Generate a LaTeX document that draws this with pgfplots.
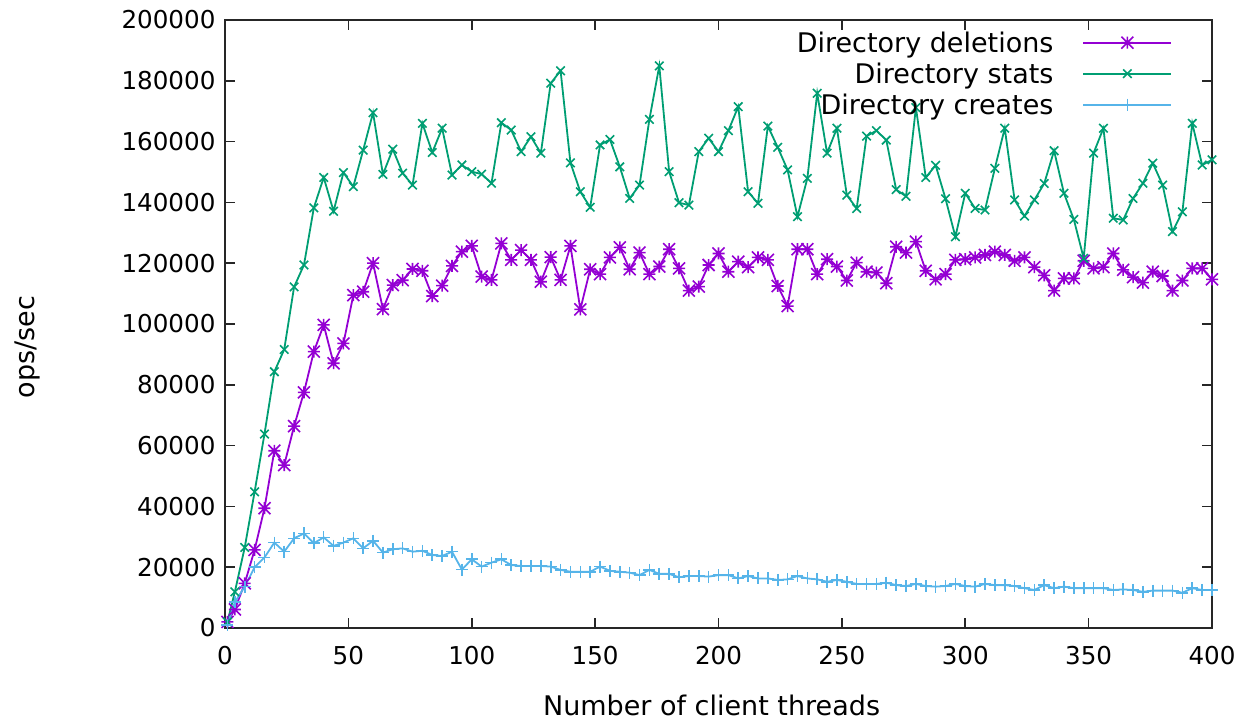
\documentclass[border=0pt]{standalone}
\usepackage{pgfplots}
\pgfplotsset{compat=1.18}
\usepackage{pgfplotstable}
\usepackage{fontspec}
\setmainfont{DejaVu Sans}
\definecolor{gpviolet}{RGB}{148,0,211}
\definecolor{gpgreen}{RGB}{0,158,115}
\definecolor{gpblue}{RGB}{86,180,233}
\pgfdeclareplotmark{gpstar}{%
  \pgfpathmoveto{\pgfqpoint{-\pgfplotmarksize}{0pt}}\pgfpathlineto{\pgfqpoint{\pgfplotmarksize}{0pt}}%
  \pgfpathmoveto{\pgfqpoint{0pt}{-\pgfplotmarksize}}\pgfpathlineto{\pgfqpoint{0pt}{\pgfplotmarksize}}%
  \pgfpathmoveto{\pgfqpoint{-\pgfplotmarksize}{-\pgfplotmarksize}}\pgfpathlineto{\pgfqpoint{\pgfplotmarksize}{\pgfplotmarksize}}%
  \pgfpathmoveto{\pgfqpoint{-\pgfplotmarksize}{\pgfplotmarksize}}\pgfpathlineto{\pgfqpoint{\pgfplotmarksize}{-\pgfplotmarksize}}%
  \pgfusepathqstroke}

\pgfplotstableread{
x y
1 2
4 6.1
8 14.7
12 25.7
16 39.4
20 58.3
24 53.6
28 66.4
32 77.5
36 90.9
40 99.7
44 87.1
48 93.6
52 109.5
56 110.6
60 120
64 104.9
68 112.8
72 114.4
76 118.1
80 117.5
84 109.2
88 112.6
92 119.1
96 123.8
100 125.7
104 115.6
108 114.5
112 126.5
116 121.1
120 124.3
124 121.1
128 113.9
132 122
136 114.5
140 125.7
144 104.8
148 118
152 116.4
156 121.9
160 125.2
164 118
168 123.5
172 116.4
176 118.9
180 124.6
184 118.3
188 111
192 112.3
196 119.4
200 123.2
204 117.2
208 120.5
212 118.7
216 121.9
220 121.1
224 112.5
228 105.9
232 124.6
236 124.6
240 116.4
244 121.3
248 118.9
252 114.3
256 120.2
260 117.2
264 116.9
268 113.4
272 125.4
276 123.5
280 127.1
284 117.5
288 114.7
292 116.4
296 121.1
300 121.3
304 121.9
308 122.7
312 123.8
316 122.7
320 120.8
324 121.9
328 118.7
332 116
336 111
340 115
344 115
348 120.8
352 118.3
356 118.7
360 123.2
364 117.8
368 115.4
372 113.6
376 117.2
380 115.8
384 111
388 114.3
392 118.3
396 118.3
400 114.7
}\deletions

\pgfplotstableread{
x y
1 2
4 11.9
8 26.5
12 44.8
16 63.8
20 84.3
24 91.6
28 112.2
32 119.4
36 138.2
40 148.2
44 137.1
48 149.8
52 145.2
56 157.2
60 169.5
64 149.2
68 157.5
72 149.6
76 145.7
80 166
84 156.4
88 164.4
92 149
96 152.3
100 150.1
104 149.3
108 146.3
112 166.2
116 163.8
120 156.7
124 161.6
128 156.2
132 179.2
136 183.3
140 153
144 143.5
148 138.4
152 158.9
156 160.7
160 151.7
164 141.3
168 145.7
172 167.3
176 184.9
180 150.1
184 139.9
188 139.1
192 156.7
196 161.1
200 156.7
204 163.6
208 171.5
212 143.5
216 139.7
220 165.1
224 158.1
228 150.7
232 135.3
236 147.9
240 175.9
244 156.2
248 164.4
252 142.4
256 138
260 161.8
264 163.6
268 160.5
272 144.2
276 142
280 171.2
284 148.2
288 152.2
292 141.2
296 128.7
300 143
304 138
308 137.5
312 151.2
316 164.4
320 140.8
324 135.5
328 140.8
332 146.2
336 157
340 143
344 134.4
348 121.6
352 156.2
356 164.4
360 134.8
364 134.2
368 141.3
372 146.3
376 152.9
380 145.7
384 130.4
388 136.9
392 166
396 152.3
400 154
}\stats

\pgfplotstableread{
x y
1 1
4 8.5
8 13.6
12 20
16 23.2
20 28.1
24 25.1
28 29.5
32 31.1
36 27.9
40 29.8
44 27
48 28.1
52 29.5
56 26.2
60 28.7
64 24.8
68 25.9
72 26.2
76 25.1
80 25.4
84 24
88 23.7
92 25.1
96 19.2
100 22.6
104 20.2
108 21.5
112 22.6
116 20.7
120 20.4
124 20.4
128 20.4
132 20.2
136 19.1
140 18.5
144 18.5
148 18.5
152 20.2
156 18.8
160 18.5
164 18.2
168 17.4
172 19.1
176 17.8
180 17.8
184 16.7
188 17.1
192 17.1
196 16.9
200 17.4
204 17.4
208 16.3
212 17.1
216 16.3
220 16.3
224 15.8
228 16
232 17.1
236 16.3
240 16
244 15.2
248 15.8
252 15.2
256 14.5
260 14.5
264 14.5
268 14.9
272 14.1
276 13.8
280 14.5
284 13.8
288 13.6
292 13.8
296 14.5
300 13.8
304 13.6
308 14.5
312 14.1
316 14.1
320 13.8
324 13.1
328 12.5
332 14.1
336 13.1
340 13.6
344 13.1
348 13.1
352 13.1
356 13.1
360 12.5
364 12.7
368 12.5
372 11.9
376 12.3
380 12.3
384 12.3
388 11.6
392 13.1
396 12.5
400 12.5
}\creates

\begin{document}
\begin{tikzpicture}[font=\fontsize{27}{32}\selectfont]
\begin{axis}[
  name=ax,
  scale only axis,
  width=987pt, height=608pt,
  xmin=0, xmax=400, ymin=0, ymax=200000,
  xtick={0,50,...,400},
  ytick={0,20000,...,200000},
  scaled x ticks=false,
  scaled y ticks=false,
  /pgf/number format/.cd, fixed, precision=0, set thousands separator={}, assume math mode=true, /pgfplots/.cd,
  tick align=inside,
  major tick length=10pt,
  tick style={line width=1.6pt, black!85},
  axis line style={line width=1.6pt, black!85},
  tick label style={font=\fontsize{24.6}{29}\selectfont},
  xticklabel style={yshift=-15pt},
  yticklabel style={xshift=-6pt},
  xlabel={Number of client threads},
  ylabel={ops/sec},
  xlabel style={at={(axis description cs:0.493,-0.127)}, anchor=center},
  ylabel style={at={(axis description cs:-0.2,0.462)}, anchor=center},
  legend style={at={(axis description cs:0.963,0.9877)}, anchor=north east, draw=none, fill=none,
    legend cell align=right, row sep=5pt, column sep=27pt, nodes={inner sep=2pt}},
  legend plot pos=right,
  legend image code/.code={\draw[mark repeat=2,mark phase=2] plot coordinates {(0pt,0pt) (44pt,0pt) (88pt,0pt)};},
  every axis plot/.append style={line width=1.8pt, mark size=6pt},
]
\addplot[color=gpviolet, mark=gpstar, mark options={line width=1.6pt}] table[x=x, y expr=\thisrow{y}*1000] {\deletions};
\addlegendentry{Directory deletions}
\addplot[color=gpgreen, mark=x, mark options={line width=1.6pt}] table[x=x, y expr=\thisrow{y}*1000] {\stats};
\addlegendentry{Directory stats}
\addplot[color=gpblue, mark=+, mark options={line width=1.6pt}] table[x=x, y expr=\thisrow{y}*1000] {\creates};
\addlegendentry{Directory creates}
\end{axis}
\pgfresetboundingbox
\path[use as bounding box] ([xshift=-225pt,yshift=-96pt]ax.south west) rectangle ([xshift=37pt,yshift=20pt]ax.north east);
\end{tikzpicture}
\end{document}
